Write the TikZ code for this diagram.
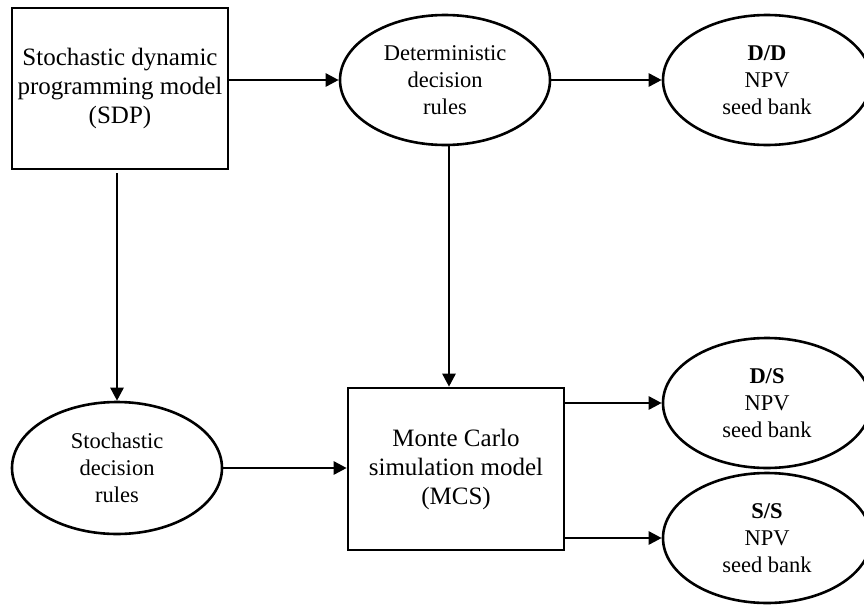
\documentclass[tikz,border=0pt]{standalone}
\usepackage{fontspec}
\setmainfont{Liberation Serif}
\usetikzlibrary{arrows.meta,shapes.geometric}
\begin{document}
\begin{tikzpicture}[x=1pt,y=-1pt,
  boxnode/.style={draw, line width=2.6pt, rectangle, inner sep=0pt, align=center,
    font=\fontsize{25}{29}\selectfont},
  ellnode/.style={draw, line width=2.6pt, ellipse, inner sep=0pt,
    minimum width=208pt, minimum height=130pt, align=center,
    font=\fontsize{22.5}{27}\selectfont},
  conn/.style={line width=2.6pt, -{Triangle[length=13pt,width=13pt]}}]
\useasboundingbox (0,0) rectangle (864,605);
\node[boxnode, minimum width=216pt, minimum height=161pt] (sdp) at (120,88.5)
  {Stochastic dynamic\\programming model\\(SDP)};
\node[ellnode, minimum width=210pt] (det) at (445,80) {Deterministic\\decision\\rules};
\node[ellnode] (dd) at (767,80) {\textbf{D/D}\\NPV\\seed bank};
\node[ellnode, minimum width=210pt, minimum height=132pt] (sto) at (117,468)
  {Stochastic\\decision\\rules};
\node[boxnode, minimum width=216pt, minimum height=162pt] (mcs) at (456,469)
  {Monte Carlo\\simulation model\\(MCS)};
\node[ellnode] (ds) at (767,403) {\textbf{D/S}\\NPV\\seed bank};
\node[ellnode] (ss) at (767,538) {\textbf{S/S}\\NPV\\seed bank};
\draw[conn] (sdp.east |- det.west) -- (det.west);
\draw[conn] (det.east) -- (dd.west);
\draw[conn] ([xshift=4pt]det.south) -- ([xshift=4pt]det.south |- mcs.north);
\draw[conn] ([yshift=-3pt]sto.north |- sdp.south) -- (sto.north);
\draw[conn] (sto.east) -- (sto.east -| mcs.west);
\draw[conn] (mcs.east |- ds.west) -- (ds.west);
\draw[conn] (mcs.east |- ss.west) -- (ss.west);
\end{tikzpicture}
\end{document}
